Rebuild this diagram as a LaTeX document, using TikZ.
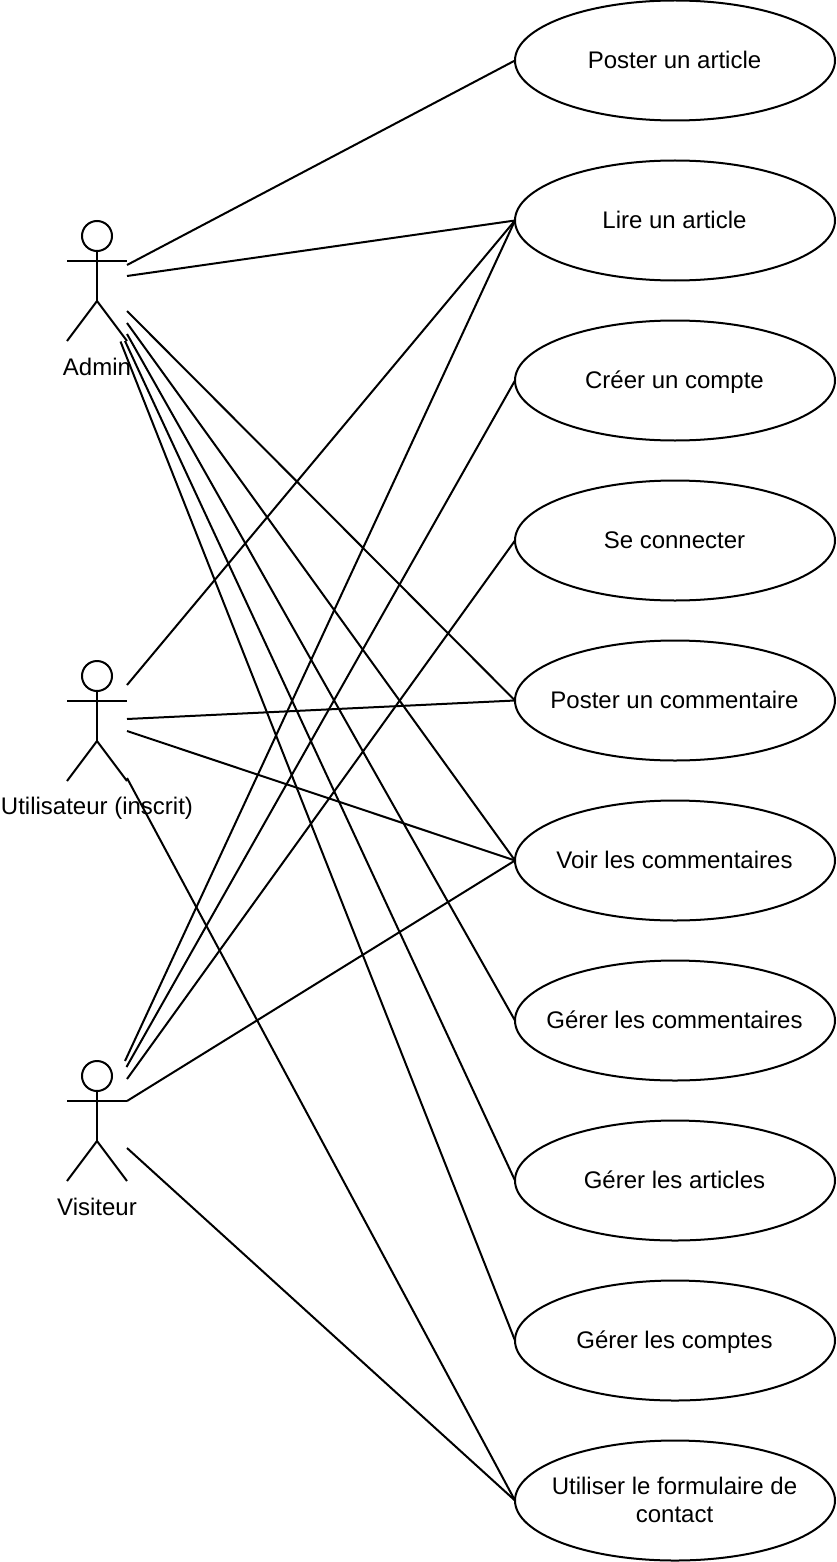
\documentclass[tikz,border=0pt]{standalone}
\usepackage{fontspec}
\setmainfont{Liberation Sans}
\usetikzlibrary{shapes.geometric}
\newcommand{\uctext}[2][-8pt]{\makebox[0pt][c]{\hspace*{-1pt}\raisebox{#1}[0pt][0pt]{\parbox[t]{316pt}{\centering #2}}}}
\tikzset{
  usecase/.style={ellipse,draw=black,line width=2pt,minimum width=320pt,minimum height=120pt,inner sep=0pt,outer sep=0pt,font=\fontsize{24}{28}\selectfont,text=black},
  actorlabel/.style={anchor=base,inner sep=0pt,outer sep=0pt,font=\fontsize{24}{28}\selectfont,text=black},
  limb/.style={draw=black,line width=2pt},
  assoc/.style={draw=black,line width=2pt},
  actorhead/.style={circle,draw=black,line width=2pt,minimum size=30pt,inner sep=0pt,outer sep=0pt}
}
\begin{document}
\begin{tikzpicture}[x=1pt,y=-1pt]
\useasboundingbox (0,0) rectangle (836,1562);
% use cases
\node[usecase] (uc1) at (675,60.5) {\uctext{Poster un article}};
\node[usecase] (uc2) at (675,220.5) {\uctext{Lire un article}};
\node[usecase] (uc3) at (675,380.5) {\uctext{Créer un compte}};
\node[usecase] (uc4) at (675,540.5) {\uctext{Se connecter}};
\node[usecase] (uc5) at (675,700.5) {\uctext{Poster un commentaire}};
\node[usecase] (uc6) at (675,860.5) {\uctext{Voir les commentaires}};
\node[usecase] (uc7) at (675,1020.5) {\uctext{Gérer les commentaires}};
\node[usecase] (uc8) at (675,1180.5) {\uctext{Gérer les articles}};
\node[usecase] (uc9) at (675,1340.5) {\uctext{Gérer les comptes}};
\node[usecase] (uc10) at (675,1500.5) {\uctext[6pt]{Utiliser le formulaire de\\contact}};
% actors
\foreach \nm/\yy in {adm/236,usr/676,vis/1076}{
  \node[actorhead] (\nm head) at (97,\yy) {};
  \coordinate (\nm arml) at (67,\yy+25);
  \coordinate (\nm armr) at (127,\yy+25);
  \coordinate (\nm hip) at (97,\yy+65);
  \coordinate (\nm legl) at (67,\yy+105);
  \coordinate (\nm legr) at (127,\yy+105);
  \draw[limb] (\nm head.south) -- (\nm hip);
  \draw[limb] (\nm arml) -- (\nm armr);
  \draw[limb] (\nm legl) -- (\nm hip) -- (\nm legr);
}
\node[actorlabel] (admlabel) at (97,375) {Admin};
\node[actorlabel] (usrlabel) at (97,814) {Utilisateur (inscrit)};
\node[actorlabel] (vislabel) at (97,1215) {Visiteur};
% free connector ends
\coordinate (a1) at (127,265);
\coordinate (a2) at (127,276);
\coordinate (a3) at (127,311);
\coordinate (a4) at (127,323);
\coordinate (a5) at (127,334);
\coordinate (a6) at (125,341);
\coordinate (a7) at (120.5,341.5);
\coordinate (u1) at (127,685);
\coordinate (u2) at (127,719);
\coordinate (u3) at (127,731);
\coordinate (u4) at (127,778);
\coordinate (v1) at (125,1061);
\coordinate (v2) at (126.5,1067);
\coordinate (v3) at (127,1079);
\coordinate (v4) at (127,1101);
\coordinate (v5) at (127,1148);
% associations
\draw[assoc] (a1) -- (uc1.west);
\draw[assoc] (a2) -- (uc2.west);
\draw[assoc] (a3) -- (uc5.west);
\draw[assoc] (a4) -- (uc6.west);
\draw[assoc] (a5) -- (uc7.west);
\draw[assoc] (a6) -- (uc8.west);
\draw[assoc] (a7) -- (uc9.west);
\draw[assoc] (u1) -- (uc2.west);
\draw[assoc] (u2) -- (uc5.west);
\draw[assoc] (u3) -- (uc6.west);
\draw[assoc] (u4) -- (uc10.west);
\draw[assoc] (v1) -- (uc2.west);
\draw[assoc] (v2) -- (uc3.west);
\draw[assoc] (v3) -- (uc4.west);
\draw[assoc] (v4) -- (uc6.west);
\draw[assoc] (v5) -- (uc10.west);
\end{tikzpicture}
\end{document}
